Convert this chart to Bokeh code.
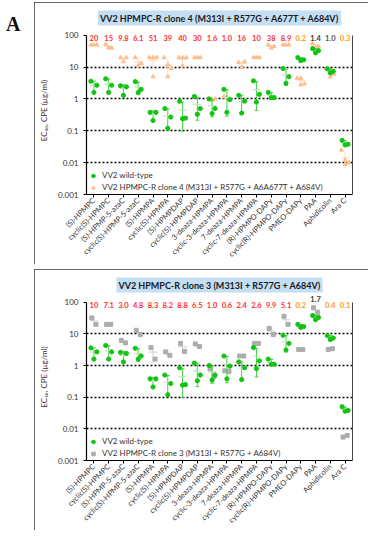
import math
import numpy as np
from bokeh.plotting import figure
from bokeh.models import (FixedTicker, CustomJSTickFormatter, Range1d, Div, Spacer, LogAxis)
from bokeh.layouts import row, column
from bokeh.embed import file_html
from bokeh.resources import INLINE

categories = ["(S)-HPMPC", "cyclic(S)-HPMPC", "(S)-HPMP-5-azaC", "cyclic(S)-HPMP-5-azaC",
              "(S)-HPMPA", "cyclic(S)-HPMPA", "(S)-HPMPDAP", "cyclic(S)-HPMPDAP",
              "3-deaza-HPMPA", "cyclic-3-deaza-HPMPA", "7-deaza-HPMPA", "cyclic-7-deaza-HPMPA",
              "(R)-HPMPO-DAPy", "cyclic(R)-HPMPO-DAPy", "PMEO-DAPy", "PAA", "Aphidicolin", "Ara C"]

wild_type = [[3.6, 2.7, 1.6], [4.3, 2.7, 1.6], [2.6, 2.4, 1.3], [3.5, 2.0, 1.6],
             [0.38, 0.38, 0.21], [0.5, 0.27, 0.12], [0.85, 0.25, 0.24], [1.2, 0.5, 0.33],
             [1.0, 0.5, 0.35], [2.0, 0.95, 0.38], [1.3, 0.85, 0.36], [3.7, 1.4, 0.8],
             [1.6, 1.1, 1.1], [9.0, 5.0, 3.1], [20, 17, 16], [38, 33, 28],
             [8.9, 7.4, 6.6], [0.05, 0.038, 0.036]]

clone4 = [[50, 50, 50], [52, 40, 40], [20, 20, 15], [20, 13, 11],
          [20, 20, 20, 5], [20, 12, 9, 5], [20, 20, 20, 11], [20, 20, 20],
          [1.0, 1.0, 0.9], [1.2, 1.0, 1.1], [14, 15, 10], [20, 20, 20],
          [50, 45, 40], [50, 50, 50], [4.5, 4.5, 3.0, 2.8], [55, 45, 40],
          [9, 8, 6, 5], [0.025, 0.012, 0.010, 0.009]]

clone3 = [[32, 20], [20, 20], [6.2, 5.2], [13, 9.5],
          [3.7, 1.6], [2.7, 2.1], [5.0, 2.8], [4.8, 4.0],
          [0.8, 0.45], [0.68, 0.65], [2.0, 2.0], [5.0, 5.0],
          [15, 9.5], [36, 20], [3.2, 3.2], [67, 47],
          [3.2, 3.4], [0.0055, 0.0062]]

ratio4 = ["20", "15", "9.8", "6.1", "51", "39", "40", "30", "1.6", "1.0", "16", "10",
          "38", "8.9", "0.2", "1.4", "1.0", "0.3"]
ratio3 = ["10", "7.1", "3.0", "4.8", "8.3", "8.2", "8.8", "6.5", "1.0", "0.6", "2.4", "2.6",
          "9.9", "5.1", "0.2", "1.7", "0.4", "0.1"]

y_ticks = [0.001, 0.01, 0.1, 1, 10, 100]
grid_ticks = [0.01, 0.1, 1, 10]

FONT = "Lato"
RED = "#ff3030"
ORANGE = "#ff9a1a"
DARK = "#3a3a3a"
GREEN = "#10c410"
GREEN_BAR = "#45d045"
ratio4_colors = [RED] * 14 + [ORANGE, DARK, "#555555", ORANGE]
ratio3_colors = [RED] * 14 + [ORANGE, DARK, ORANGE, ORANGE]

OFFSETS = {1: [0.0], 2: [-0.14, 0.14], 3: [-0.2, 0.2, 0.0], 4: [-0.25, 0.0, 0.25, 0.0]}

DECADE_PX = 32.6
HEADROOM_PX = 9
Y_TOP = y_ticks[-1] * 10 ** (HEADROOM_PX / DECADE_PX)


def scatter_xy(groups):
    xs, ys = [], []
    for i, g in enumerate(groups):
        offs = OFFSETS[len(g)]
        for j, v in enumerate(g):
            xs.append(i + offs[j])
            ys.append(v)
    return xs, ys


def stats(groups):
    means = np.array([np.mean(g) for g in groups])
    sds = np.array([np.std(g, ddof=1) for g in groups])
    lo = np.where(means - sds > 0, means - sds, means * 0.6)
    hi = means + sds
    return means, lo, hi


def panel(title, mutant, mut_marker, mut_color, mut_bar, mut_label, ratios, ratio_colors,
          height, raised=None):
    p = figure(width=334, height=height,
               y_axis_type="log",
               x_range=Range1d(-0.5, 17.5), y_range=Range1d(y_ticks[0], Y_TOP),
               output_backend="svg", toolbar_location=None,
               min_border_left=52, min_border_right=16, min_border_top=24,
               min_border_bottom=66)
    p.outline_line_color = None
    p.border_fill_color = "white"
    p.styles = {"outline": "1.5px solid #333333", "outline-offset": "-1.5px"}

    p.title.text = title
    p.title.align = "center"
    p.title.text_font = FONT
    p.title.text_font_size = "9px"
    p.title.text_font_style = "bold"
    p.title.text_color = "#1a1a1a"
    p.title.background_fill_color = "#c4def3"
    p.title.padding = 2
    p.title.standoff = 2

    yax = p.yaxis[0]
    yax.ticker = FixedTicker(ticks=y_ticks)
    yax.bounds = (y_ticks[0], y_ticks[-1])
    yax.formatter = CustomJSTickFormatter(code="return String(tick);")
    yax.minor_tick_line_color = None
    yax.major_tick_out = 3
    yax.major_tick_in = 0
    yax.major_label_text_font = FONT
    yax.major_label_text_font_size = "8px"
    yax.major_label_text_color = "#333333"
    yax.axis_label = "EC₅₀, CPE (µg/ml)"
    yax.axis_label_text_font = FONT
    yax.axis_label_text_font_size = "8px"
    yax.axis_label_text_font_style = "normal"
    yax.axis_label_text_color = "#333333"
    yax.axis_label_standoff = 6
    yax.axis_line_width = 1.2

    xax = p.xaxis[0]
    xax.ticker = FixedTicker(ticks=list(range(len(categories))))
    xax.major_label_overrides = {i: c for i, c in enumerate(categories)}
    xax.major_label_orientation = math.pi / 4
    xax.major_label_text_font = FONT
    xax.major_label_text_font_size = "7.5px"
    xax.major_label_text_color = "#333333"
    xax.major_label_standoff = 2
    xax.major_tick_out = 3
    xax.major_tick_in = 0
    xax.minor_tick_line_color = None
    xax.axis_line_width = 1.2

    right = LogAxis(major_label_text_font_size="0px", major_tick_line_color=None,
                    minor_tick_line_color=None, axis_line_color="#444444",
                    major_label_standoff=0)
    right.ticker = FixedTicker(ticks=[])
    right.bounds = (y_ticks[0], y_ticks[-1])
    p.add_layout(right, "right")

    p.xgrid.grid_line_color = None
    p.ygrid.ticker = FixedTicker(ticks=grid_ticks)
    p.ygrid.grid_line_color = "black"
    p.ygrid.grid_line_dash = "2 2"
    p.ygrid.grid_line_width = 1.3

    idx = np.arange(len(categories))

    m_mean, m_lo, m_hi = stats(mutant)
    p.segment(idx, m_lo, idx, m_hi, line_color=mut_bar, line_width=1)
    p.segment(idx - 0.28, m_mean, idx + 0.28, m_mean, line_color=mut_bar, line_width=1.2)
    mx, my = scatter_xy(mutant)
    p.scatter(mx, my, marker=mut_marker, size=4, fill_color=mut_color, line_color=mut_color,
              legend_label=mut_label)

    w_mean, w_lo, w_hi = stats(wild_type)
    p.segment(idx, w_lo, idx, w_hi, line_color=GREEN_BAR, line_width=1)
    p.segment(idx - 0.13, w_lo, idx + 0.13, w_lo, line_color=GREEN_BAR, line_width=1)
    p.segment(idx - 0.13, w_hi, idx + 0.13, w_hi, line_color=GREEN_BAR, line_width=1)
    p.segment(idx - 0.28, w_mean, idx + 0.28, w_mean, line_color="#bfe9bf", line_width=1.2)
    wx, wy = scatter_xy(wild_type)
    p.scatter(wx, wy, marker="circle", size=4.2, fill_color=GREEN, line_color=GREEN,
              legend_label="VV2 wild-type")

    keep = [i for i in range(len(ratios)) if i != raised]
    p.text(x=keep, y=[y_ticks[-1]] * len(keep), text=[ratios[i] for i in keep],
           text_color=[ratio_colors[i] for i in keep], text_font_size="7.5px",
           text_font_style="bold", text_align="center", text_baseline="top",
           text_font={"value": FONT})
    if raised is not None:
        p.text(x=[raised], y=[y_ticks[-1]], text=[ratios[raised]],
               text_color=ratio_colors[raised], text_font_size="7.5px",
               text_font_style="bold", text_align="center", text_baseline="bottom",
               text_font={"value": FONT})

    lg = p.legend[0]
    lg.location = "bottom_left"
    lg.border_line_color = None
    lg.background_fill_alpha = 0
    lg.label_text_font = FONT
    lg.label_text_font_size = "8px"
    lg.label_text_color = "#333333"
    lg.glyph_width = 10
    lg.glyph_height = 9
    lg.label_height = 9
    lg.label_standoff = 4
    lg.spacing = 2
    lg.padding = 2
    lg.margin = 2
    items = lg.items
    lg.items = [items[1], items[0]]
    return p


p1 = panel("VV2 HPMPC-R clone 4 (M313I + R577G + A677T + A684V)", clone4, "triangle",
           "#ffbd8c", "#ffd9bd", "VV2 HPMPC-R clone 4 (M313I + R577G + A6A677T + A684V)",
           ratio4, ratio4_colors, 262)
p2 = panel("VV2 HPMPC-R clone 3 (M313I + R577G + A684V)", clone3, "square",
           "#adadad", "#d4d4d4", "VV2 HPMPC-R clone 3 (M313I + R577G + A684V)",
           ratio3, ratio3_colors, 261, raised=15)

letter = Div(text="A", width=24, height=24,
             styles={"font-family": "Liberation Serif", "font-weight": "bold",
                     "font-size": "20px", "color": "#111111", "margin-top": "10px",
                     "padding-left": "1px"})

layout = row(letter, column(Spacer(height=2), p1, Spacer(height=5), p2))

open("out.html", "w").write(file_html(layout, INLINE))
